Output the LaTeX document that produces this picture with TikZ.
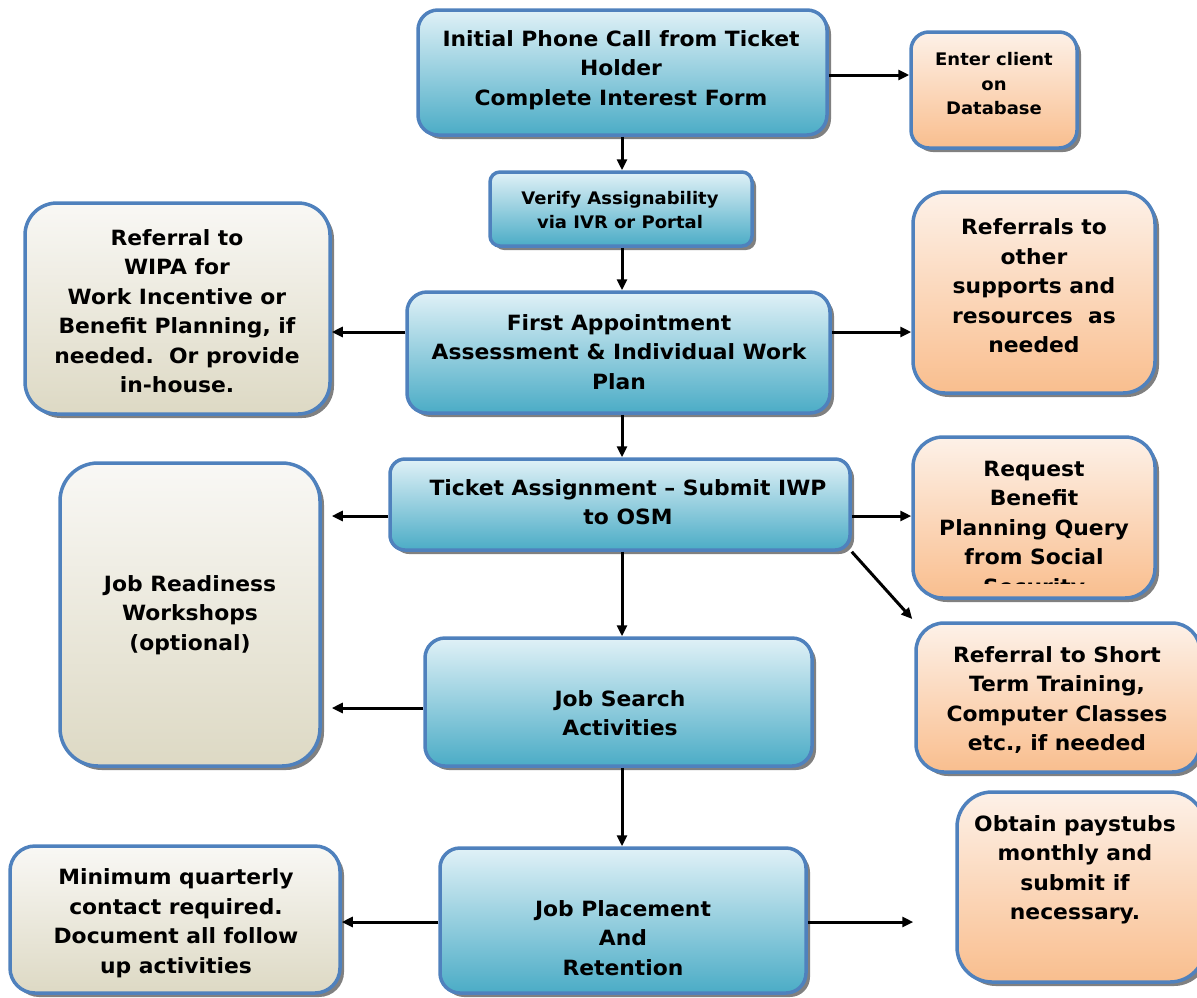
\documentclass[tikz,border=0pt]{standalone}
\usepackage{fontspec}
\setmainfont{DejaVu Sans}[FakeStretch=1.04]
\usetikzlibrary{arrows.meta,shadows}
\definecolor{bordc}{RGB}{79,129,189}
\definecolor{bluetop}{RGB}{224,241,247}
\definecolor{bluebot}{RGB}{75,172,198}
\definecolor{orgtop}{RGB}{253,241,232}
\definecolor{orgbot}{RGB}{249,190,142}
\definecolor{beitop}{RGB}{249,248,245}
\definecolor{beibot}{RGB}{221,217,196}
\definecolor{shad}{RGB}{128,128,128}
\tikzset{
 box/.style={draw=bordc, line width=3.5pt, rounded corners=20pt, inner sep=0pt,
   drop shadow={shadow xshift=4pt, shadow yshift=-4pt, fill=shad, opacity=1}},
 bluebox/.style={box, top color=bluetop, bottom color=bluebot},
 orgbox/.style={box, top color=orgtop, bottom color=orgbot},
 beibox/.style={box, top color=beitop, bottom color=beibot},
 txt/.style={align=center, inner sep=0pt, font=\fontsize{21}{29.5}\selectfont\bfseries},
 smalltxt/.style={align=center, inner sep=0pt, font=\fontsize{17.3}{24.5}\selectfont\bfseries},
 arr/.style={line width=3pt, -{Triangle[length=11pt,width=10pt]}},
}
\begin{document}
\begin{tikzpicture}[x=1pt,y=-1pt]
\useasboundingbox (0,0) rectangle (1197,997);
% boxes
\node[bluebox, minimum width=409pt, minimum height=125pt] (n1) at (622.5,72.5) {};
\node[orgbox, rounded corners=18pt, minimum width=166pt, minimum height=116pt] (n2) at (994,90) {};
\node[bluebox, rounded corners=10pt, minimum width=262pt, minimum height=74pt] (n3) at (621,209) {};
\node[beibox, rounded corners=32pt, minimum width=305pt, minimum height=211pt] (n4) at (177.5,308.5) {};
\node[bluebox, minimum width=423pt, minimum height=121pt] (n5) at (618.5,352.5) {};
\node[orgbox, rounded corners=32pt, minimum width=242pt, minimum height=201pt] (n6) at (1034,292.5) {};
\node[bluebox, rounded corners=15pt, minimum width=460pt, minimum height=91pt] (n7) at (620,504.5) {};
\node[beibox, rounded corners=38pt, minimum width=260pt, minimum height=303pt] (n8) at (190,614.5) {};
\node[orgbox, rounded corners=30pt, minimum width=242pt, minimum height=161pt] (n9) at (1034,517.5) {};
\node[bluebox, minimum width=387pt, minimum height=128pt] (n10) at (618.5,702) {};
\node[orgbox, rounded corners=28pt, minimum width=284pt, minimum height=149pt] (n11) at (1058,697.5) {};
\node[beibox, rounded corners=25pt, minimum width=330pt, minimum height=147pt] (n12) at (175,919.5) {};
\node[bluebox, minimum width=366pt, minimum height=145pt] (n13) at (623,920.5) {};
\node[orgbox, rounded corners=35pt, minimum width=248pt, minimum height=190pt] (n14) at (1081,887) {};
% texts
\node[txt] (t1) at (621,70) {Initial Phone Call from Ticket\\Holder\\Complete Interest Form};
\node[smalltxt] (t2) at (994,84) {Enter client\\on\\Database};
\node[smalltxt] (t3) at (620,210) {Verify Assignability\\via IVR or Portal};
\node[txt] (t4) at (177,311) {Referral to\\WIPA for\\Work Incentive or\\Benefit Planning, if\\needed.\ \ Or provide\\in-house.};
\node[txt] (t5) at (619,352) {First Appointment\\Assessment \& Individual Work\\Plan};
\node[txt] (t6) at (1034,286) {Referrals to\\other\\supports and\\resources\ \ as\\needed};
\node[txt] (t7) at (628,502) {Ticket Assignment -- Submit IWP\\to OSM};
\node[txt] (t8) at (190,615) {Job Readiness\\Workshops\\(optional)};
\begin{scope}
\clip (900,430) rectangle (1170,583);
\node[txt] (t9) at (1034,530) {Request\\Benefit\\Planning Query\\from Social\\Security};
\end{scope}
\node[txt] (t10) at (620,713) {Job Search\\Activities};
\node[txt] (t11) at (1057,700) {Referral to Short\\Term Training,\\Computer Classes\\etc., if needed};
\node[txt] (t12) at (176,923) {Minimum quarterly\\contact required.\\Document all follow\\up activities};
\node[txt] (t13) at (623,938) {Job Placement\\And\\Retention};
\node[txt] (t14) at (1075,870) {Obtain paystubs\\monthly and\\submit if\\necessary.};
% connectors
\draw[arr] (n1.east |- 0,75) -- (n2.west |- 0,75);
\draw[arr] (n1.south -| 622,0) -- (n3.north -| 622,0);
\draw[arr] (n3.south -| 622,0) -- (n5.north -| 622,0);
\draw[arr] (n5.west |- 0,332) -- (n4.east |- 0,332);
\draw[arr] (n5.east |- 0,332) -- (n6.west |- 0,332);
\draw[arr] (n5.south -| 622,0) -- (n7.north -| 622,0);
\draw[arr, shorten >=10pt] (n7.west |- 0,516) -- (n8.east |- 0,516);
\draw[arr] (n7.east |- 0,516) -- (n9.west |- 0,516);
\draw[arr, shorten >=3pt] (n7.south east) -- (n11.north west);
\draw[arr] (n7.south -| 622,0) -- (n10.north -| 622,0);
\draw[arr, shorten >=10pt] (n10.west |- 0,708) -- (n8.east |- 0,708);
\draw[arr] (n10.south -| 622,0) -- (n13.north -| 622,0);
\draw[arr] (n13.west |- 0,922) -- (n12.east |- 0,922);
\draw[arr, shorten >=42pt] (n13.east |- 0,922) -- (n14.west |- 0,922);
\end{tikzpicture}
\end{document}
